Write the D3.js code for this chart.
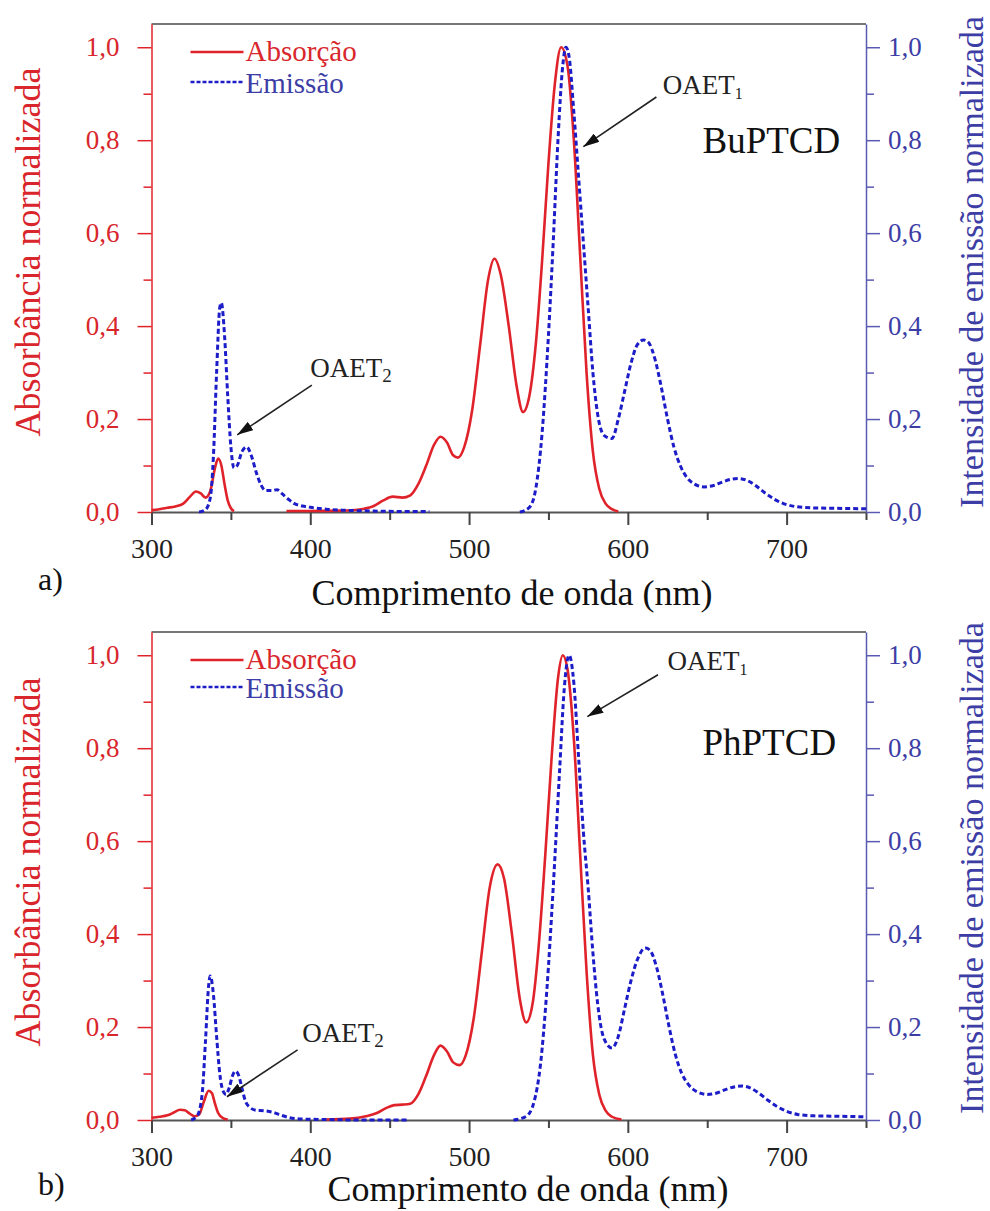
<!DOCTYPE html>
<html lang="pt">
<head>
    <meta charset="UTF-8">
    <title>Absorção e emissão normalizadas</title>
    <script src="https://d3js.org/d3.v7.min.js"></script>
    <style>
        body, html {
            margin: 0;
            padding: 0;
            background: #fff;
        }
    </style>
</head>
<body>
<svg width="990" height="1211"></svg>

<script>
    // ---- dados ----
    const wlMajorTicks = [300, 400, 500, 600, 700];
    const wlMinorTicks = [350, 450, 550, 650, 750];
    const yMajorTicks = [0, 0.2, 0.4, 0.6, 0.8, 1.0];
    const yMinorTicks = [0.1, 0.3, 0.5, 0.7, 0.9];

    // (a) BuPTCD - absorção
    const buAbsWl = [300, 305, 310, 315, 320, 324, 328, 331, 334, 337, 340, 342, 344, 346, 348, 350, 352, 360,
        385, 400, 420, 430, 440, 446, 452, 458, 463, 468, 473, 478, 482, 486, 490, 493, 497, 502, 507, 512, 516,
        520, 525, 530, 534, 538, 542, 546, 550, 554, 558, 562, 566, 570, 574, 578, 582, 586, 590, 594];
    const buAbs = [0.004, 0.006, 0.009, 0.012, 0.018, 0.032, 0.044, 0.04, 0.031, 0.045, 0.095, 0.115, 0.1, 0.06,
        0.025, 0.008, 0.002, null,
        0.002, 0.002, 0.003, 0.005, 0.013, 0.025, 0.033, 0.031, 0.036, 0.06, 0.1, 0.145, 0.162, 0.15, 0.122, 0.117,
        0.14, 0.22, 0.36, 0.5, 0.545, 0.51, 0.4, 0.27, 0.215, 0.25, 0.36, 0.54, 0.75, 0.92, 1.0, 0.96, 0.8, 0.55,
        0.3, 0.13, 0.05, 0.018, 0.006, 0.001];

    // (a) BuPTCD - emissão
    const buEmWl = [330, 334, 337, 339, 341, 343, 344, 346, 348, 350, 352, 354, 357, 360, 363, 366, 369, 372, 376,
        379, 382, 386, 390, 395, 400, 410, 420, 440, 460, 475, 500,
        532, 538, 542, 546, 550, 553, 556, 559, 561, 563, 566, 569, 572, 575, 578, 581, 585, 590, 594, 598, 602,
        606, 610, 613, 617, 621, 625, 629, 633, 637, 642, 648, 654, 660, 666, 670, 675, 680, 686, 692, 698, 705,
        715, 730, 750];
    const buEm = [0, 0.005, 0.03, 0.12, 0.3, 0.44, 0.45, 0.38, 0.25, 0.14, 0.095, 0.1, 0.13, 0.14, 0.12, 0.085,
        0.058, 0.046, 0.046, 0.048, 0.04, 0.028, 0.018, 0.013, 0.01, 0.006, 0.004, 0.002, 0.001, 0.001, null,
        0, 0.01, 0.05, 0.17, 0.38, 0.58, 0.8, 0.96, 1.0, 0.98, 0.86, 0.72, 0.58, 0.44, 0.3, 0.21, 0.165, 0.158,
        0.2, 0.26, 0.32, 0.36, 0.37, 0.365, 0.33, 0.27, 0.2, 0.14, 0.1, 0.075, 0.06, 0.054, 0.057, 0.065, 0.071,
        0.072, 0.068, 0.058, 0.042, 0.028, 0.018, 0.012, 0.009, 0.008, 0.007];

    // (b) PhPTCD - absorção
    const phAbsWl = [300, 305, 310, 314, 318, 321, 324, 327, 330, 333, 336, 338, 340, 342, 345, 348, 380,
        410, 425, 435, 442, 448, 453, 458, 463, 468, 473, 478, 482, 486, 490, 494, 498, 503, 508, 513, 518, 522,
        527, 532, 536, 540, 544, 548, 552, 556, 559, 562, 566, 570, 574, 578, 582, 586, 590, 596];
    const phAbs = [0.005, 0.007, 0.01, 0.016, 0.022, 0.021, 0.014, 0.008, 0.012, 0.04, 0.063, 0.058, 0.035, 0.015,
        0.004, 0.001, null,
        0.001, 0.003, 0.008, 0.015, 0.026, 0.032, 0.033, 0.035, 0.055, 0.095, 0.14, 0.16, 0.148, 0.124, 0.118,
        0.14, 0.22, 0.36, 0.5, 0.55, 0.52, 0.4, 0.26, 0.21, 0.25, 0.38, 0.57, 0.78, 0.95, 1.0, 0.97, 0.82, 0.57,
        0.32, 0.14, 0.055, 0.02, 0.007, 0.001];

    // (b) PhPTCD - emissão
    const phEmWl = [325, 329, 332, 334, 336, 337, 339, 341, 343, 345, 347, 349, 351, 353, 355, 357, 359, 362, 366,
        371, 376, 381, 387, 395, 410, 430, 461, 495,
        528, 536, 541, 545, 549, 553, 557, 560, 563, 566, 569, 572, 575, 578, 581, 585, 590, 594, 598, 602, 606,
        611, 614, 618, 622, 626, 630, 634, 638, 643, 650, 656, 662, 668, 672, 677, 682, 688, 694, 700, 707, 717,
        732, 750];
    const phEm = [0, 0.01, 0.06, 0.17, 0.29, 0.31, 0.27, 0.18, 0.1, 0.063, 0.055, 0.07, 0.095, 0.105, 0.095, 0.068,
        0.042, 0.027, 0.021, 0.02, 0.017, 0.011, 0.005, 0.002, 0.001, 0, 0, null,
        0, 0.008, 0.04, 0.12, 0.28, 0.5, 0.75, 0.93, 1.0, 0.94, 0.78, 0.62, 0.5, 0.36, 0.25, 0.175, 0.155, 0.18,
        0.24, 0.3, 0.345, 0.37, 0.365, 0.33, 0.27, 0.2, 0.14, 0.1, 0.077, 0.062, 0.055, 0.058, 0.066, 0.072,
        0.073, 0.069, 0.059, 0.043, 0.029, 0.019, 0.012, 0.009, 0.008, 0.007];

    // ---- desenho ----
    const RED = '#e0232a';
    const RED_TEXT = '#d8262c';
    const BLUE = '#1c1cc8';
    const BLUE_TEXT = '#3d3da6';
    const BLUE_AXIS = '#5a5ab4';
    const SERIF = "'Liberation Serif', 'Noto Serif', 'DejaVu Serif', FreeSerif, Tinos, 'Nimbus Roman', 'Times New Roman', serif";

    const svg = d3.select('svg');
    const x = d3.scaleLinear().domain([300, 750]).range([151.5, 866]);
    const fmt = d => d3.format('.1f')(d).replace('.', ',');

    const defs = svg.append('defs');
    defs.append('marker')
        .attr('id', 'arrow')
        .attr('viewBox', '0 0 16 10')
        .attr('refX', 16)
        .attr('refY', 5)
        .attr('markerWidth', 16)
        .attr('markerHeight', 10)
        .attr('markerUnits', 'userSpaceOnUse')
        .attr('orient', 'auto')
        .append('path')
        .attr('d', 'M0,0 L16,5 L0,10 Z')
        .attr('fill', '#111');

    const panels = [
        {
            top: 24, bottom: 512, name: 'BuPTCD', tag: 'a)',
            abs: d3.zip(buAbsWl, buAbs), em: d3.zip(buEmWl, buEm),
            legendY: [52, 82], titleY: 605, titleX: 512, tagY: 590,
            leftTitleY: 252, rightTitleY: 262,
            nameAt: [647, 0.772],
            oaet1: {text: [622, 0.90], from: [618, 0.893], to: [572, 0.786]},
            oaet2: {text: [400, 0.29], from: [401, 0.273], to: [354, 0.166]}
        },
        {
            top: 632, bottom: 1120, name: 'PhPTCD', tag: 'b)',
            abs: d3.zip(phAbsWl, phAbs), em: d3.zip(phEmWl, phEm),
            legendY: [660, 687], titleY: 1201, titleX: 528, tagY: 1195,
            leftTitleY: 862, rightTitleY: 868,
            nameAt: [647, 0.785],
            oaet1: {text: [625, 0.969], from: [619, 0.958], to: [574.5, 0.868]},
            oaet2: {text: [395, 0.168], from: [392, 0.151], to: [347.5, 0.05]}
        }
    ];

    panels.forEach(p => {
        const g = svg.append('g');
        const y = d3.scaleLinear().domain([0, 1.05]).range([p.bottom, p.top]);

        // borda superior
        g.append('line')
            .attr('x1', x.range()[0]).attr('x2', x.range()[1])
            .attr('y1', y(1.05)).attr('y2', y(1.05))
            .attr('stroke', '#777').attr('stroke-width', 2);

        // eixo x
        const xAxis = g.append('g')
            .attr('transform', `translate(0,${p.bottom})`)
            .call(d3.axisBottom(x).tickValues(wlMajorTicks).tickSize(13).tickSizeOuter(0)
                .tickPadding(13).tickFormat(d3.format('d')));
        xAxis.select('.domain').attr('stroke', '#555').attr('stroke-width', 2);
        xAxis.selectAll('.tick line').attr('stroke', '#444').attr('stroke-width', 2);
        xAxis.selectAll('.tick text').attr('fill', '#222').style('font-size', '28px');

        const xMinor = g.append('g')
            .attr('transform', `translate(0,${p.bottom})`)
            .call(d3.axisBottom(x).tickValues(wlMinorTicks).tickSize(8).tickFormat(''));
        xMinor.select('.domain').remove();
        xMinor.selectAll('.tick line').attr('stroke', '#444').attr('stroke-width', 2);

        // eixo esquerdo (absorbância)
        const yLeft = g.append('g')
            .attr('transform', `translate(${x.range()[0]},0)`)
            .call(d3.axisLeft(y).tickValues(yMajorTicks).tickSize(14).tickSizeOuter(0)
                .tickPadding(18).tickFormat(fmt));
        yLeft.select('.domain').attr('stroke', RED).attr('stroke-width', 1.5);
        yLeft.selectAll('.tick line').attr('stroke', RED).attr('stroke-width', 1.5);
        yLeft.selectAll('.tick text').attr('fill', RED_TEXT).style('font-size', '27px');

        const yLeftMinor = g.append('g')
            .attr('transform', `translate(${x.range()[0]},0)`)
            .call(d3.axisLeft(y).tickValues(yMinorTicks).tickSize(8).tickFormat(''));
        yLeftMinor.select('.domain').remove();
        yLeftMinor.selectAll('.tick line').attr('stroke', RED).attr('stroke-width', 1.5);

        // eixo direito (emissão)
        const yRight = g.append('g')
            .attr('transform', `translate(${x.range()[1]},0)`)
            .call(d3.axisRight(y).tickValues(yMajorTicks).tickSize(14).tickSizeOuter(0)
                .tickPadding(8).tickFormat(fmt));
        yRight.select('.domain').attr('stroke', BLUE_AXIS).attr('stroke-width', 1.5);
        yRight.selectAll('.tick line').attr('stroke', BLUE_AXIS).attr('stroke-width', 1.5);
        yRight.selectAll('.tick text').attr('fill', BLUE_TEXT).style('font-size', '27px');

        const yRightMinor = g.append('g')
            .attr('transform', `translate(${x.range()[1]},0)`)
            .call(d3.axisRight(y).tickValues(yMinorTicks).tickSize(8).tickFormat(''));
        yRightMinor.select('.domain').remove();
        yRightMinor.selectAll('.tick line').attr('stroke', BLUE_AXIS).attr('stroke-width', 1.5);

        // curvas
        const line = d3.line()
            .defined(d => d[1] != null)
            .x(d => x(d[0]))
            .y(d => y(d[1]))
            .curve(d3.curveMonotoneX);

        g.append('path')
            .datum(p.abs)
            .attr('d', line)
            .attr('fill', 'none')
            .attr('stroke', RED)
            .attr('stroke-width', 2.6);

        g.append('path')
            .datum(p.em)
            .attr('d', line)
            .attr('fill', 'none')
            .attr('stroke', BLUE)
            .attr('stroke-width', 3)
            .attr('stroke-dasharray', '5,3');

        // legenda
        const lx0 = x.range()[0] + 39, lx1 = x.range()[0] + 92;
        g.append('line').attr('x1', lx0).attr('x2', lx1)
            .attr('y1', p.legendY[0]).attr('y2', p.legendY[0])
            .attr('stroke', RED).attr('stroke-width', 2.6);
        g.append('text').attr('x', lx1 + 2).attr('y', p.legendY[0] + 9)
            .attr('fill', RED_TEXT).style('font-size', '29px').text('Absorção');
        g.append('line').attr('x1', lx0).attr('x2', lx1)
            .attr('y1', p.legendY[1]).attr('y2', p.legendY[1])
            .attr('stroke', BLUE).attr('stroke-width', 2.5).attr('stroke-dasharray', '4,2');
        g.append('text').attr('x', lx1 + 2).attr('y', p.legendY[1] + 11)
            .attr('fill', BLUE_TEXT).style('font-size', '29px').text('Emissão');

        // nome da amostra
        g.append('text')
            .attr('x', x(p.nameAt[0])).attr('y', y(p.nameAt[1]))
            .attr('fill', '#111').style('font-size', '37px').text(p.name);

        // anotações OAET
        [[p.oaet1, '1'], [p.oaet2, '2']].forEach(([a, sub]) => {
            g.append('line')
                .attr('x1', x(a.from[0])).attr('y1', y(a.from[1]))
                .attr('x2', x(a.to[0])).attr('y2', y(a.to[1]))
                .attr('stroke', '#222').attr('stroke-width', 1.6)
                .attr('marker-end', 'url(#arrow)');
            const t = g.append('text')
                .attr('x', x(a.text[0])).attr('y', y(a.text[1]))
                .attr('fill', '#222').style('font-size', '27px').text('OAET');
            t.append('tspan').attr('dy', 5).style('font-size', sub === '1' ? '16px' : '19px').text(sub);
        });

        // títulos dos eixos
        g.append('text')
            .attr('transform', `translate(40,${p.leftTitleY}) rotate(-90)`)
            .attr('text-anchor', 'middle')
            .attr('fill', RED_TEXT).style('font-size', '36px')
            .text('Absorbância normalizada');

        g.append('text')
            .attr('transform', `translate(983,${p.rightTitleY}) rotate(-90)`)
            .attr('text-anchor', 'middle')
            .attr('fill', BLUE_TEXT).style('font-size', '34px')
            .text('Intensidade de emissão normalizada');

        g.append('text')
            .attr('x', p.titleX).attr('y', p.titleY)
            .attr('text-anchor', 'middle')
            .attr('fill', '#111').style('font-size', '36px')
            .text('Comprimento de onda (nm)');

        g.append('text')
            .attr('x', 38).attr('y', p.tagY)
            .attr('fill', '#111').style('font-size', '32px')
            .text(p.tag);

        // fonte serifada em todos os textos (inclusive os dos eixos do d3)
        g.selectAll('text').style('font-family', SERIF);
    });
</script>
</body>
</html>
